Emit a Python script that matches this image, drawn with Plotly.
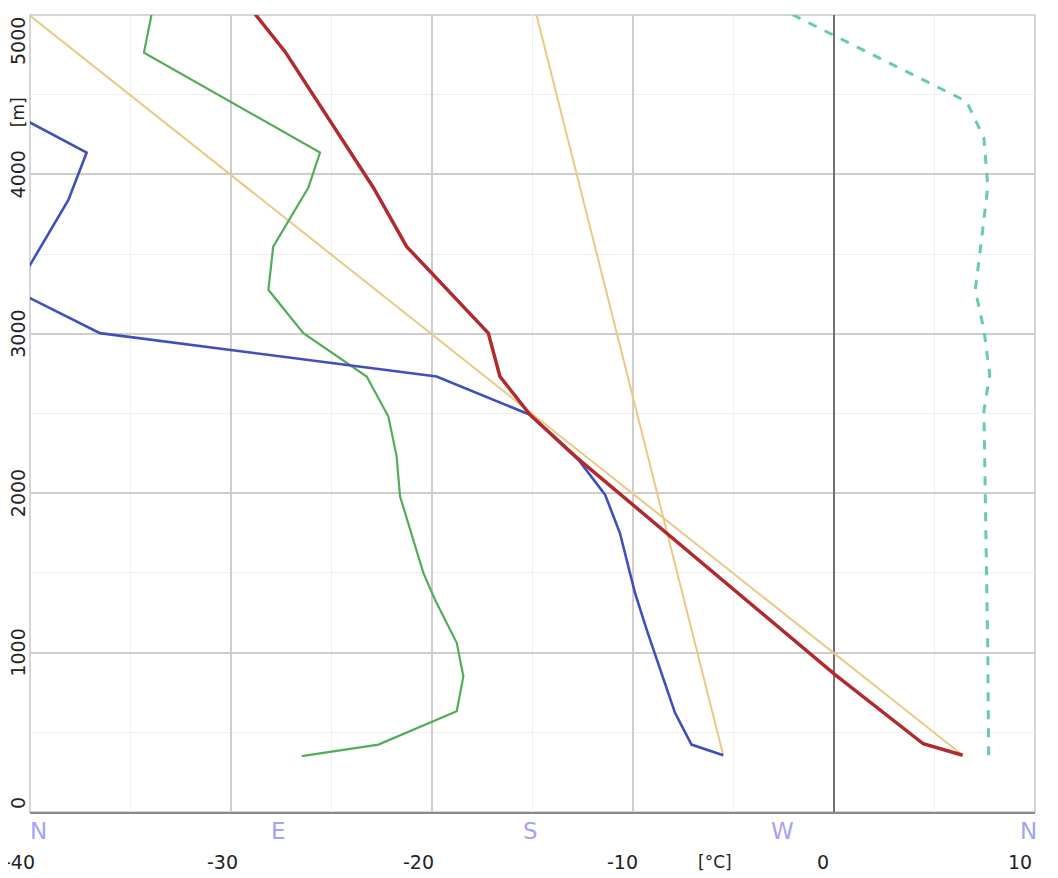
import plotly.graph_objects as go

# ---- data ----
temp_t = [6.40, 4.44, 0.05, -12.80, -15.12, -16.62, -17.20, -21.26, -22.92, -27.31, -29.40]
temp_h = [356, 428, 862, 2223, 2492, 2732, 3004, 3547, 3918, 4770, 5100]

dew_t = [-5.51, -7.09, -7.91, -9.32, -9.90, -10.65, -11.39, -12.72, -15.12, -19.77,
         -36.52, -40.75, -38.09, -37.18, -42.6, -44.0]
dew_h = [356, 423, 622, 1144, 1374, 1750, 1991, 2210, 2492, 2732,
         3004, 3271, 3840, 4137, 4500, 5100]

g_t = [-26.48, -22.67, -18.77, -18.44, -18.77, -19.85, -20.43, -21.59, -21.76, -22.17,
       -23.25, -26.40, -28.14, -27.90, -26.15, -25.57, -34.33, -33.80]
g_h = [350, 423, 632, 851, 1061, 1332, 1500, 1980, 2231, 2481,
       2732, 3004, 3276, 3547, 3918, 4137, 4764, 5100]

dry_t = [6.40, -41.04]
dry_h = [356, 5100]

dewlapse_t = [-5.51, -15.0]
dewlapse_h = [356, 5100]

wind_dir = [343.4, 343.1, 341.7, 343.8, 341.7, 338.6, 340.4, 343.1, 341.7, 335.5, 274.6, 261.9]
wind_h = [356, 1002, 2517, 2743, 3025, 3276, 3527, 3922, 4229, 4457, 4989, 5100]

x_ticks = [-40, -30, -20, -10, 0, 10]
x_tick_labels = ["-40", "-30", "-20", "-10", "0", "10"]
y_ticks = [0, 1000, 2000, 3000, 4000, 5000]
compass = ["N", "E", "S", "W", "N"]
compass_deg = [0, 90, 180, 270, 360]

# ---- figure ----
fig = go.Figure()
TAN = "#ebc985"
fig.add_trace(go.Scatter(x=dry_t, y=dry_h, mode="lines", line=dict(color=TAN, width=2)))
fig.add_trace(go.Scatter(x=dewlapse_t, y=dewlapse_h, mode="lines", line=dict(color=TAN, width=2)))
fig.add_trace(go.Scatter(x=g_t, y=g_h, mode="lines", line=dict(color="#52ad58", width=2.2)))
fig.add_trace(go.Scatter(x=dew_t, y=dew_h, mode="lines", line=dict(color="#3f4fbd", width=2.6)))
fig.add_trace(go.Scatter(x=temp_t, y=temp_h, mode="lines", line=dict(color="#b02a2e", width=3.5)))
fig.add_trace(go.Scatter(x=wind_dir, y=wind_h, mode="lines", xaxis="x2",
                         line=dict(color="#66ccaa", width=3, dash="dash")))

FONT = "DejaVu Sans"
TICKSIZE = 19
fig.update_layout(
    width=1050, height=870,
    margin=dict(l=22, r=23, t=7, b=66),
    paper_bgcolor="white", plot_bgcolor="white",
    showlegend=False,
    font=dict(family=FONT, size=TICKSIZE, color="#222"),
    xaxis=dict(range=[-40, 10], tickvals=x_ticks, showticklabels=False, ticks="",
               showgrid=True, gridcolor="#cdcdcd", gridwidth=1.5,
               minor=dict(dtick=5, tick0=-40, showgrid=True, gridcolor="#efefef", gridwidth=1),
               zeroline=True, zerolinecolor="#707070", zerolinewidth=2,
               showline=True, linecolor="#8a8a8a", linewidth=2),
    xaxis2=dict(range=[0, 360], overlaying="x", visible=False),
    yaxis=dict(range=[0, 5000], tickvals=y_ticks, showticklabels=False, ticks="",
               showgrid=True, gridcolor="#cdcdcd", gridwidth=1.5,
               minor=dict(dtick=500, tick0=0, showgrid=True, gridcolor="#efefef", gridwidth=1),
               zeroline=False),
)

# plot border (top / right / left)
fig.add_shape(type="rect", xref="paper", yref="paper", x0=0, x1=1, y0=0, y1=1,
              line=dict(color="#c8c8c8", width=1.5), layer="below")

ann = []
# x tick labels
x_shifts = [-9, -9, -14, -11, -11, -15]
for v, lab, s in zip(x_ticks, x_tick_labels, x_shifts):
    if v == -40:
        ann.append(dict(x=v, xref="x", y=0, yref="paper", text=lab, showarrow=False,
                        xanchor="right", yanchor="middle", xshift=7, yshift=-50,
                        font=dict(family=FONT, size=TICKSIZE, color="#222")))
    else:
        ann.append(dict(x=v, xref="x", y=0, yref="paper", text=lab, showarrow=False,
                        xanchor="center", yanchor="middle", xshift=s, yshift=-50,
                        font=dict(family=FONT, size=TICKSIZE, color="#222")))
ann.append(dict(x=-5.9, xref="x", y=0, yref="paper", text="[°C]", showarrow=False,
                xanchor="center", yanchor="middle", yshift=-50,
                font=dict(family=FONT, size=17, color="#222")))
# compass labels
c_shifts = [8, -3, -2, -1, -7]
for d, lab, s in zip(compass_deg, compass, c_shifts):
    ann.append(dict(x=d, xref="x2", y=0, yref="paper", text=lab, showarrow=False,
                    xanchor="center", yanchor="middle", xshift=s, yshift=-19,
                    font=dict(family=FONT, size=23, color="#a3a3f7")))
# y tick labels
for v in y_ticks:
    ys = 0
    if v == 5000:
        ys = -26
    elif v == 0:
        ys = 9
    ann.append(dict(x=0, xref="paper", y=v, yref="y", text=str(v), showarrow=False,
                    textangle=-90, xanchor="center", yanchor="middle", xshift=-12, yshift=ys,
                    font=dict(family=FONT, size=TICKSIZE, color="#222")))
ann.append(dict(x=0, xref="paper", y=4390, yref="y", text="[m]", showarrow=False,
                textangle=-90, xanchor="center", yanchor="middle", xshift=-12,
                font=dict(family=FONT, size=17, color="#222")))
fig.update_layout(annotations=ann)

fig.write_html("out.html")
